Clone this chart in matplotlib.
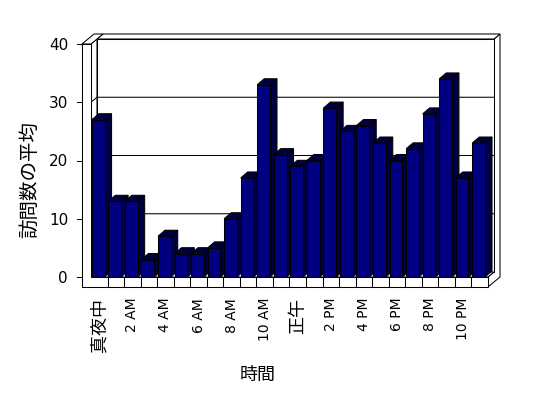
import matplotlib
matplotlib.use('Agg')
import matplotlib.pyplot as plt
from matplotlib.patches import Polygon

hours = ['真夜中', '1 AM', '2 AM', '3 AM', '4 AM', '5 AM', '6 AM', '7 AM', '8 AM', '9 AM', '10 AM', '11 AM',
         '正午', '1 PM', '2 PM', '3 PM', '4 PM', '5 PM', '6 PM', '7 PM', '8 PM', '9 PM', '10 PM', '11 PM']
visits = [27, 13, 13, 3, 7, 4, 4, 5, 10, 17, 33, 21, 19, 20, 29, 25, 26, 23, 20, 22, 28, 34, 17, 23]
y_ticks = [0, 10, 20, 30, 40]
x_title = '時間'
y_title = '訪問数の平均'

plt.rcParams['font.family'] = ['DejaVu Sans', 'Noto Sans CJK JP']

W, H = 548, 398
fig = plt.figure(figsize=(W / 100, H / 100), dpi=100)
ax = fig.add_axes([91 / W, (H - 277) / H, 397 / W, 233 / H])
n = len(visits)
top = y_ticks[-1]
ax.set_xlim(-0.5, n - 0.5)
ax.set_ylim(0, top)
for s in ax.spines.values():
    s.set_visible(False)

# one pixel in data units
px_x = n / 397
px_y = top / 233
sx, sy = 6 * px_x, 5 * px_y   # depth of the back wall
bx, by = 7 * px_x, 6 * px_y   # depth of the bars
wall = 9 * px_x
floor = 10 * px_y
lw = 0.75
x0, x1 = -0.5, n - 0.5
front = '#000080'
side = '#000040'


def face(pts, fc='white', z=1):
    ax.add_patch(Polygon(pts, closed=True, fc=fc, ec='black', lw=lw,
                         clip_on=False, zorder=z, joinstyle='miter'))


# walls and floor
face([(x1, -floor), (x1 + 2 * sx, -floor + 2 * sy), (x1 + 2 * sx, top + 2 * sy),
      (x1 + sx, top + sy), (x1 + sx, sy), (x1, 0)])
face([(x0 + sx, sy), (x1 + sx, sy), (x1 + sx, top + sy), (x0 + sx, top + sy)])
face([(x0 + sx, top + sy), (x1 + sx, top + sy), (x1 + 2 * sx, top + 2 * sy), (x0 + 2 * sx, top + 2 * sy)])
face([(x0, 0), (x1, 0), (x1 + sx, sy), (x0 + sx, sy)])
face([(x0, 0), (x0 + sx, sy), (x0 + sx, top + sy), (x0, top)])
face([(x0 - wall, top), (x0, top), (x0 + 2 * sx, top + 2 * sy), (x0 - wall + 2 * sx, top + 2 * sy)])
face([(x0 - wall, top), (x0, top), (x0, 0), (x1, 0), (x1, -floor), (x0 - wall, -floor)], z=5)

for v in y_ticks[1:-1]:
    ax.plot([x0, x0 + sx, x1 + sx], [v + 0, v + sy, v + sy], color='black', lw=lw, clip_on=False, zorder=2)
for v in y_ticks:
    ax.plot([x0 - wall - 5 * px_x, x0 - wall], [v, v], color='black', lw=lw, clip_on=False, zorder=5)
for k in range(1, n):
    ax.plot([x0 + k, x0 + k], [-floor, 0], color='black', lw=lw, clip_on=False, zorder=6)

# bars
lefts = [i - 0.45 for i in range(n)]
bw = 0.77
for left, v in zip(lefts, visits):
    right = left + bw
    face([(right, 0), (right + bx, by), (right + bx, v + by), (right, v)], fc=side, z=3)
    face([(left, v), (right, v), (right + bx, v + by), (left + bx, v + by)], fc=side, z=3)
ax.bar(lefts, visits, width=bw, align='edge', color=front, edgecolor='black', lw=lw, zorder=4)

ax.set_yticks(y_ticks)
ax.tick_params(axis='y', length=0, pad=16.5, labelsize=11)
ax.set_xticks(range(0, n, 2))
ax.set_xticklabels(hours[::2], rotation=90)
ax.tick_params(axis='x', length=0, pad=15)
for lbl in ax.get_xticklabels():
    if any(ord(c) > 0x2000 for c in lbl.get_text()):
        lbl.set_fontsize(13)
    else:
        lbl.set_fontsize(10)

fig.text(30 / W, 1 - 180 / H, y_title, rotation=90, ha='center', va='center', fontsize=14)
fig.text(258 / W, 1 - 375 / H, x_title, ha='center', va='center', fontsize=13)

fig.savefig('out.png', dpi=100)
